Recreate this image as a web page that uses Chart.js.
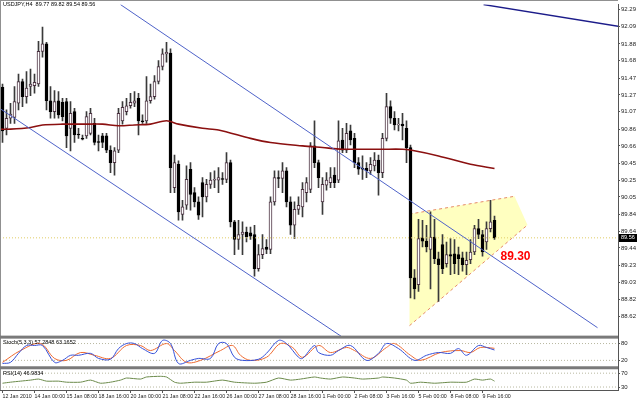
<!DOCTYPE html>
<html>
<head>
<meta charset="utf-8">
<script src="https://cdn.jsdelivr.net/npm/chart.js@4.4.1/dist/chart.umd.min.js"></script>
<style>
  html, body { margin: 0; padding: 0; background: #fff; }
  #wrap { position: relative; width: 637px; height: 399px; }
</style>
</head>
<body>
<div id="wrap"><canvas id="chart" width="637" height="399"></canvas></div>
<script>
// USDJPY H4 candles (one entry per bar)
const opens = [
  91.36, 90.87, 90.99, 91.00, 91.17, 91.43, 91.25, 91.37, 91.38, 91.40,
  91.79, 91.88, 91.20, 91.07, 91.20, 91.18, 91.19, 90.87, 91.07, 90.80,
  90.75, 90.78, 90.81, 90.93, 90.71, 90.78, 90.78, 90.61, 90.46, 90.61,
  90.96, 91.07, 91.14, 91.17, 91.23, 90.96, 90.96, 91.20, 91.25, 91.43,
  91.61, 91.76, 91.77, 90.16, 90.44, 89.84, 89.95, 90.38, 90.10, 89.99,
  90.22, 90.05, 90.20, 90.25, 90.25, 90.27, 90.26, 90.46, 89.75, 89.54,
  89.60, 89.63, 89.62, 89.60, 89.19, 89.36, 89.45, 89.42, 89.99, 90.28,
  90.27, 90.36, 89.99, 89.71, 89.90, 89.93, 90.10, 90.14, 90.66, 90.46,
  89.99, 90.19, 90.22, 90.31, 90.25, 90.73, 90.61, 90.84, 90.75, 90.46,
  90.39, 90.39, 90.36, 90.42, 90.49, 90.34, 90.75, 91.13, 90.99, 90.91,
  90.92, 90.87, 90.64, 89.08, 89.00, 89.56, 89.52, 89.42, 89.57, 89.31,
  89.48, 89.25, 89.36, 89.37, 89.36, 89.32, 89.24, 89.30, 89.39, 89.67,
  89.60, 89.51, 89.67, 89.77
];
const highs = [
  91.40, 91.09, 91.17, 91.37, 91.52, 91.46, 91.55, 91.58, 91.52, 91.91,
  92.08, 91.90, 91.37, 91.32, 91.31, 91.23, 91.23, 91.19, 91.11, 90.87,
  90.79, 91.07, 91.11, 90.99, 90.79, 90.81, 90.81, 90.66, 90.64, 91.11,
  91.19, 91.23, 91.29, 91.31, 91.29, 91.03, 91.49, 91.40, 91.50, 91.68,
  91.82, 91.90, 91.82, 90.55, 90.48, 90.01, 90.42, 90.46, 90.16, 90.05,
  90.28, 90.26, 90.34, 90.36, 90.40, 90.34, 90.58, 90.49, 89.77, 89.77,
  89.75, 89.69, 89.69, 89.71, 89.48, 89.60, 89.54, 90.05, 90.36, 90.36,
  90.46, 90.40, 90.05, 89.99, 90.05, 90.22, 90.28, 90.70, 90.96, 90.49,
  90.28, 90.34, 90.40, 90.40, 90.96, 90.87, 90.93, 90.91, 90.81, 90.52,
  90.54, 90.46, 90.52, 90.58, 90.55, 90.81, 91.29, 91.20, 91.07, 90.99,
  91.05, 90.96, 90.67, 89.18, 89.78, 89.77, 89.71, 89.87, 89.78, 89.39,
  89.60, 89.51, 89.55, 89.54, 89.45, 89.39, 89.39, 89.54, 89.71, 89.78,
  89.65, 89.75, 90.01, 89.82
];
const lows = [
  90.70, 90.79, 90.93, 90.93, 91.09, 91.13, 91.17, 91.26, 91.29, 91.37,
  91.72, 91.09, 90.99, 90.99, 90.99, 90.96, 90.64, 90.60, 90.70, 90.75,
  90.73, 90.75, 90.79, 90.67, 90.60, 90.64, 90.58, 90.34, 90.31, 90.58,
  90.92, 91.03, 91.11, 91.13, 90.79, 90.93, 90.93, 91.17, 91.22, 91.40,
  91.57, 91.66, 90.10, 90.10, 89.77, 89.77, 89.90, 89.89, 89.93, 89.78,
  89.81, 89.99, 90.15, 90.16, 90.10, 90.20, 90.22, 89.69, 89.36, 89.42,
  89.36, 89.51, 89.54, 89.10, 89.16, 89.31, 89.37, 89.37, 89.95, 90.16,
  90.10, 89.93, 89.60, 89.55, 89.84, 89.81, 89.99, 90.10, 90.40, 90.16,
  89.84, 90.13, 90.16, 90.16, 90.22, 90.58, 90.58, 90.67, 90.40, 90.32,
  90.26, 90.28, 90.32, 90.36, 90.07, 90.28, 90.72, 90.93, 90.85, 90.84,
  90.73, 90.46, 88.84, 88.83, 88.92, 89.45, 89.39, 88.95, 89.25, 88.80,
  89.13, 89.21, 89.12, 89.13, 89.12, 89.16, 89.12, 89.25, 89.36, 89.55,
  89.34, 89.42, 89.63, 89.54
];
const closes = [
  90.84, 90.99, 91.04, 91.19, 91.43, 91.25, 91.35, 91.40, 91.42, 91.79,
  91.88, 91.20, 91.07, 91.19, 91.03, 91.01, 90.78, 91.05, 90.79, 90.79,
  90.74, 91.01, 91.05, 90.70, 90.70, 90.70, 90.61, 90.46, 90.60, 91.05,
  91.12, 91.14, 91.18, 91.20, 90.96, 90.95, 91.20, 91.25, 91.43, 91.61,
  91.76, 91.78, 90.40, 90.46, 89.87, 89.93, 90.26, 90.08, 89.99, 89.83,
  90.05, 90.20, 90.25, 90.26, 90.28, 90.26, 90.46, 89.75, 89.54, 89.60,
  89.63, 89.57, 89.58, 89.19, 89.36, 89.43, 89.42, 89.99, 90.28, 90.27,
  90.36, 89.99, 89.71, 89.90, 89.95, 90.14, 90.22, 90.66, 90.46, 90.28,
  90.20, 90.25, 90.28, 90.22, 90.72, 90.61, 90.81, 90.73, 90.46, 90.38,
  90.38, 90.36, 90.44, 90.49, 90.34, 90.75, 91.13, 90.99, 90.91, 90.92,
  90.90, 90.64, 89.08, 88.95, 89.55, 89.52, 89.45, 89.57, 89.31, 89.24,
  89.19, 89.36, 89.34, 89.25, 89.31, 89.24, 89.29, 89.39, 89.67, 89.60,
  89.39, 89.67, 89.75, 89.56
];

// time axis: labelled bars
const timeLabelBars = [0, 8, 16, 24, 32, 40, 48, 56, 64, 72, 80, 88, 96, 104, 112, 120];
const timeLabels = ['12 Jan 2010', '14 Jan 00:00', '15 Jan 08:00', '18 Jan 16:00', '20 Jan 00:00',
  '21 Jan 08:00', '22 Jan 16:00', '26 Jan 00:00', '27 Jan 08:00', '28 Jan 16:00',
  '1 Feb 00:00', '2 Feb 08:00', '3 Feb 16:00', '5 Feb 00:00', '8 Feb 08:00', '9 Feb 16:00'];

// price axis
const priceTicks = [92.29, 92.09, 91.88, 91.68, 91.47, 91.27, 91.07, 90.86, 90.66, 90.45,
  90.25, 90.05, 89.84, 89.64, 89.44, 89.23, 89.03, 88.82, 88.62];
const priceMin = 88.378, priceMax = 92.35;
const lastPrice = 89.56;

// moving average (sampled along the drawn curve)
const maBars = [-0.5, 2, 7, 10, 15, 20, 25, 29, 33, 37, 41, 44, 50, 54, 62, 67, 75, 80, 85, 90, 95, 100, 102, 109, 117, 123];
const maValues = [90.86, 90.86, 90.88, 90.91, 90.92, 90.92, 90.92, 90.90, 90.91, 90.92, 90.96, 90.92, 90.87, 90.85,
  90.75, 90.70, 90.66, 90.64, 90.62, 90.62, 90.62, 90.62, 90.61, 90.54, 90.44, 90.39];

// drawn objects: [bar, price] endpoints
const channelUpper = [[29.5, 92.35], [148.75, 88.485]];
const channelLower = [[-0.5, 91.102], [84.8, 88.378]];
const topLine = [[120.25, 92.35], [154, 92.09]];
const wedge = [[101.75, 89.844], [128, 90.057], [131.25, 89.714], [101.75, 88.509]];
const wedgeLabel = '89.30';

// Stochastic (5,3,3)
const stochMainBars = [0, 2, 4, 6, 8, 10, 13, 15, 17, 19, 22, 24, 27, 29, 31, 33, 35, 38, 40, 42, 44, 47, 49, 52, 54, 56,
  58, 60, 64, 66, 69, 71, 74, 75, 78, 79, 82, 84, 87, 91, 94, 96, 99, 103, 106, 109, 112, 114, 116, 119, 121, 123];
const stochMainValues = [9, 13, 45, 73, 73, 73, 13, 20, 38, 38, 45, 27, 24, 62, 80, 80, 62, 45, 91, 80, 9, 20, 27, 27, 80, 80,
  31, 20, 24, 45, 91, 80, 31, 27, 73, 48, 38, 55, 73, 20, 45, 80, 62, 20, 38, 48, 45, 62, 38, 73, 66, 57];
const stochSignalBars = [0, 4.5, 9.5, 13, 16, 19.5, 23, 27, 31, 34.5, 37, 41, 43, 46, 49.5, 54.5, 57.5, 59.5, 62, 66, 69.5,
  72.5, 75, 79, 82, 86, 88, 92, 96, 98, 102, 104.5, 109.5, 114.5, 117, 119.5, 123];
const stochSignalValues = [13, 55, 80, 27, 20, 48, 38, 27, 73, 73, 55, 80, 55, 13, 20, 55, 73, 38, 20, 31, 80,
  66, 31, 73, 48, 66, 55, 27, 66, 80, 38, 20, 48, 55, 48, 66, 63];
const stochLevels = [80, 20];

// RSI(14)
const rsiBars = [0, 2, 4.5, 7, 9, 11, 14, 16, 19.5, 22, 24.5, 27, 29.5, 31, 34.5, 36, 39.5, 41, 43, 44.5, 48, 51, 55, 58,
  63, 66, 69, 72, 74.5, 78, 79.5, 82, 85, 88, 90, 94, 95, 98, 101, 102, 104.5, 108, 112, 116, 118, 120, 122, 123];
const rsiValues = [41, 44, 47, 50, 53, 47, 47, 44, 44, 50, 41, 44, 50, 56, 53, 59, 61, 59, 44, 41, 44, 44, 50, 44,
  41, 44, 56, 50, 53, 59, 56, 53, 59, 56, 53, 56, 59, 56, 50, 41, 44, 41, 44, 44, 53, 50, 53, 47];
const rsiLevels = [70, 30];

const FONT = '"Liberation Sans", Arial, sans-serif';
const pts = arr => arr.map(p => ({ x: p[0], y: p[1] }));
const zip = (xs, ys) => xs.map((x, i) => ({ x: x, y: ys[i] }));
const xMin = -0.625, xMax = 153.875;

const overlay = {
  id: 'overlay',
  afterDraw(chart) {
    const { ctx, chartArea } = chart;
    const sx = chart.scales.x, sy = chart.scales.y;
    const ys = chart.scales.yStoch, yr = chart.scales.yRsi;
    ctx.save();
    // frame
    ctx.fillStyle = '#909090';
    ctx.fillRect(0, 0, chartArea.right, 1);
    ctx.fillRect(0, 0, 1, chartArea.bottom);
    // window separators
    ctx.fillStyle = '#7a7a7a';
    ctx.fillRect(0, ys.top - 1, chartArea.right, 3);
    ctx.fillRect(0, yr.top - 1, chartArea.right, 3);

    ctx.fillStyle = '#000';
    ctx.textBaseline = 'top';
    ctx.font = '5.5px ' + FONT;
    ctx.fillText('USDJPY,H4  ' + [opens[123], highs[123], lows[123], closes[123]].map(v => v.toFixed(2)).join(' '), 3, 2);
    ctx.fillText('Stoch(5,3,3) 57.2848 63.1652', 3, ys.top + 3);
    ctx.fillText('RSI(14) 46.9834', 3, yr.top + 3);

    // current price box on the axis
    const py = sy.getPixelForValue(lastPrice);
    ctx.fillStyle = '#000';
    ctx.fillRect(chartArea.right + 1, Math.round(py) - 4, 18, 8);
    ctx.fillStyle = '#fff';
    ctx.textBaseline = 'middle';
    ctx.fillText(lastPrice.toFixed(2), chartArea.right + 3, py);

    // red label next to the wedge
    ctx.fillStyle = '#ff0000';
    ctx.font = 'bold 12px ' + FONT;
    ctx.fillText(wedgeLabel, sx.getPixelForValue(124.5), sy.getPixelForValue(89.34));
    ctx.restore();
  }
};

const axisFont = { family: FONT, size: 6 };

new Chart(document.getElementById('chart'), {
  type: 'bar',
  data: {
    datasets: [
      {
        type: 'line', data: pts(wedge.concat([wedge[0]])), fill: 'shape',
        backgroundColor: '#ffffc0', borderWidth: 0, borderColor: 'rgba(0,0,0,0)', pointRadius: 0, order: 20
      },
      {
        type: 'line', data: pts([wedge[0], wedge[1]]), borderColor: '#e58a6a', borderWidth: 1,
        borderDash: [3, 3], pointRadius: 0, order: 19
      },
      {
        type: 'line', data: pts([wedge[3], wedge[2]]), borderColor: '#e58a6a', borderWidth: 1,
        borderDash: [3, 3], pointRadius: 0, order: 19
      },
      {
        label: 'wicks', data: lows.map((l, i) => ({ x: i, y: [l, highs[i]] })),
        backgroundColor: '#3a3a3a', barThickness: 1, grouped: false, order: 5
      },
      {
        label: 'bodies', data: opens.map((o, i) => ({ x: i, y: [o, closes[i]] })),
        backgroundColor: opens.map((o, i) => closes[i] >= o ? '#ffffff' : '#000000'),
        borderColor: opens.map((o, i) => closes[i] >= o ? '#4a3040' : '#000000'),
        borderWidth: 1, borderSkipped: false, barThickness: 3, grouped: false, order: 4
      },
      {
        type: 'line', data: zip(maBars, maValues), borderColor: '#8b1010', borderWidth: 1.6,
        pointRadius: 0, tension: 0.3, order: 3
      },
      {
        type: 'line', data: [{ x: xMin, y: lastPrice }, { x: xMax, y: lastPrice }], borderColor: '#e0cc66',
        borderWidth: 1, borderDash: [1, 2], pointRadius: 0, order: 2
      },
      { type: 'line', data: pts(channelUpper), borderColor: '#4f63c9', borderWidth: 1, pointRadius: 0, order: 1 },
      { type: 'line', data: pts(channelLower), borderColor: '#4f63c9', borderWidth: 1, pointRadius: 0, order: 1 },
      { type: 'line', data: pts(topLine), borderColor: '#1c1c8a', borderWidth: 1.5, pointRadius: 0, order: 1 },

      // Stochastic window
      ...stochLevels.map(v => ({
        type: 'line', yAxisID: 'yStoch', data: [{ x: xMin, y: v }, { x: xMax, y: v }],
        borderColor: '#b8b8a0', borderWidth: 1, borderDash: [1, 2], pointRadius: 0, order: 9
      })),
      {
        type: 'line', yAxisID: 'yStoch', data: zip(stochSignalBars, stochSignalValues), borderColor: '#ee6a30',
        borderWidth: 1, pointRadius: 0, tension: 0.35, order: 8
      },
      {
        type: 'line', yAxisID: 'yStoch', data: zip(stochMainBars, stochMainValues), borderColor: '#3550d8',
        borderWidth: 1, pointRadius: 0, tension: 0.35, order: 7
      },

      // RSI window
      ...rsiLevels.map(v => ({
        type: 'line', yAxisID: 'yRsi', data: [{ x: xMin, y: v }, { x: xMax, y: v }],
        borderColor: '#b8b8a0', borderWidth: 1, borderDash: [1, 2], pointRadius: 0, order: 9
      })),
      {
        type: 'line', yAxisID: 'yRsi', data: zip(rsiBars, rsiValues), borderColor: '#6b8a4a',
        borderWidth: 1, pointRadius: 0, tension: 0.2, order: 7
      }
    ]
  },
  options: {
    responsive: false,
    animation: false,
    events: [],
    layout: { padding: 0 },
    plugins: { legend: { display: false }, tooltip: { enabled: false } },
    scales: {
      x: {
        type: 'linear', min: xMin, max: xMax, offset: false, position: 'bottom',
        grid: { offset: false, drawOnChartArea: false, tickLength: 3, color: '#555' },
        border: { color: '#555' },
        afterBuildTicks: s => { s.ticks = timeLabelBars.map(v => ({ value: v })); },
        afterFit: s => { s.height = 9; },
        ticks: {
          autoSkip: false, maxRotation: 0, align: 'start', padding: 0, color: '#222',
          font: { family: FONT, size: 5.3 },
          callback: v => timeLabels[timeLabelBars.indexOf(v)] || ''
        }
      },
      y: {
        type: 'linear', position: 'right', stack: 'win', stackWeight: 336, min: priceMin, max: priceMax,
        grid: { drawOnChartArea: false, tickLength: 2, color: '#555' },
        border: { color: '#555' },
        afterBuildTicks: s => { s.ticks = priceTicks.map(v => ({ value: v })); },
        afterFit: s => { s.width = 19; },
        ticks: { autoSkip: false, padding: 1, color: '#222', font: axisFont, callback: v => v.toFixed(2) }
      },
      yStoch: {
        type: 'linear', position: 'right', stack: 'win', stackWeight: 31, min: -4.6, max: 104.6,
        grid: { drawOnChartArea: false, tickLength: 2, color: '#555' },
        border: { color: '#555' },
        afterBuildTicks: s => { s.ticks = stochLevels.map(v => ({ value: v })); },
        afterFit: s => { s.width = 19; },
        ticks: { autoSkip: false, padding: 1, color: '#222', font: axisFont }
      },
      yRsi: {
        type: 'linear', position: 'right', stack: 'win', stackWeight: 23, min: 21.4, max: 87.1,
        grid: { drawOnChartArea: false, tickLength: 2, color: '#555' },
        border: { color: '#555' },
        afterBuildTicks: s => { s.ticks = rsiLevels.map(v => ({ value: v })); },
        afterFit: s => { s.width = 19; },
        ticks: { autoSkip: false, padding: 1, color: '#222', font: axisFont }
      }
    }
  },
  plugins: [overlay]
});
</script>
</body>
</html>
